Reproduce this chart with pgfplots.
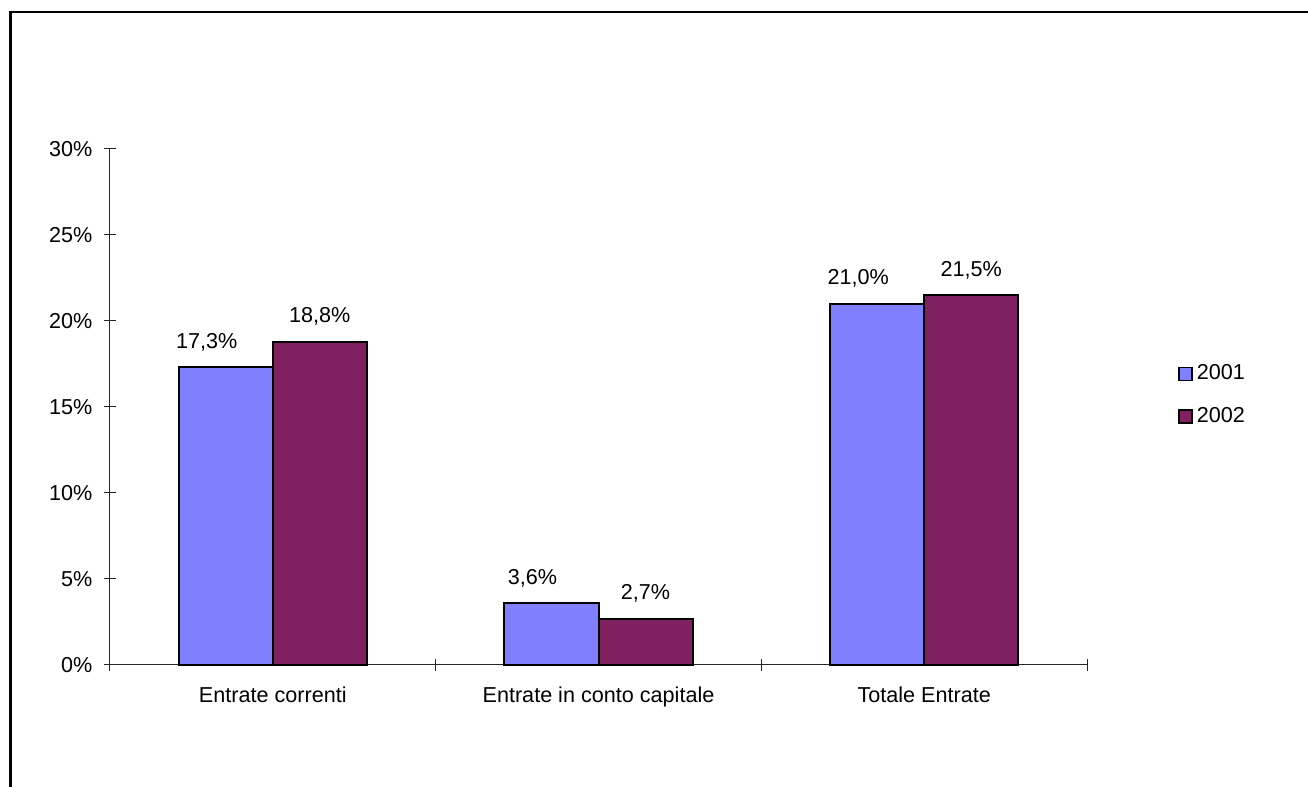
\documentclass[border=0pt]{standalone}
\usepackage{pgfplots}
\pgfplotsset{compat=1.18}
\usepackage{fontspec}
\setmainfont{Liberation Sans}
\definecolor{cA}{HTML}{8080FF}
\definecolor{cB}{HTML}{802060}
\begin{document}
\fontsize{10.8pt}{13pt}\selectfont
\begin{tikzpicture}
\useasboundingbox (0,0) rectangle (654pt,393.5pt);
\draw[line width=1.25pt] (5.3pt,-10pt) -- (5.3pt,387.5pt) -- (680pt,387.5pt);
\begin{axis}[
  at={(55pt,61pt)}, anchor=south west,
  scale only axis, width=488.5pt, height=258pt,
  xmin=-0.5, xmax=2.5, ymin=0, ymax=30,
  enlargelimits=false,
  axis lines=left,
  axis line style={-, line width=0.5pt, black!85},
  ybar=0pt, bar width=47pt,
  xtick={0,1,2},
  xticklabels={Entrate correnti, Entrate in conto capitale, Totale Entrate},
  major x tick style={draw=none},
  minor xtick={-0.5,0.5,1.5,2.5},
  minor tick length=6pt,
  ytick={0,5,10,15,20,25,30},
  yticklabel={\pgfmathprintnumber{\tick}\%},
  /pgf/number format/assume math mode=true,
  tick align=center,
  major tick length=6pt,
  tick style={black!85, line width=0.5pt},
  xticklabel style={yshift=-4pt},
  yticklabel style={xshift=-2pt},
  nodes near coords={\pgfmathprintnumber[fixed,fixed zerofill,precision=1,use comma]{\pgfplotspointmeta}\%},
  every node near coord/.append style={yshift=4pt, black, font=\fontsize{10.8pt}{13pt}\selectfont},
  legend style={at={(axis description cs:1.093,0.523)}, anchor=west, draw=none, fill=none, inner sep=0pt, row sep=8pt, legend cell align=left},
  legend image code/.code={\draw[#1, draw=black, line width=0.8pt] (0pt,-3.25pt) rectangle (6.5pt,3.25pt);},
  clip=false,
]
\addplot[fill=cA, draw=black, line width=1pt, every node near coord/.append style={xshift=-9.5pt}] coordinates {(0,17.3) (1,3.6) (2,21.0)};
\addplot[fill=cB, draw=black, line width=1pt] coordinates {(0,18.8) (1,2.7) (2,21.5)};
\legend{2001,2002}
\end{axis}
\end{tikzpicture}
\end{document}
